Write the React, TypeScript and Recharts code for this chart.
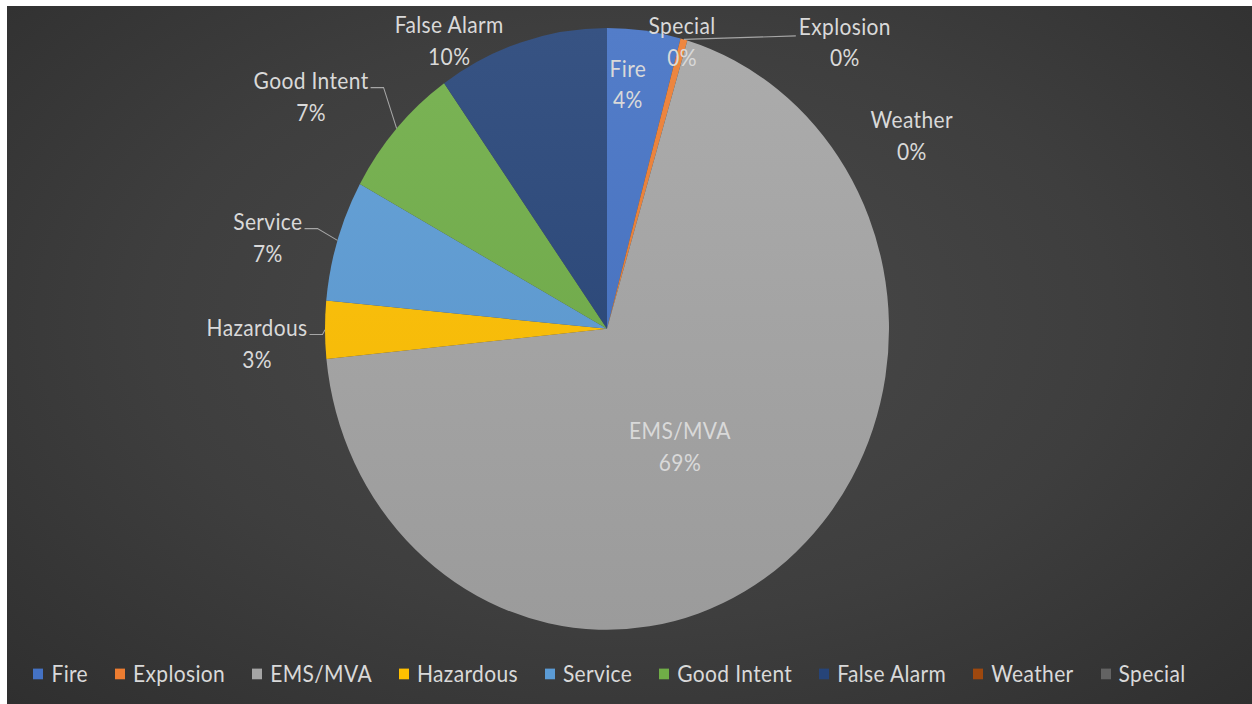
import { PieChart, Pie, Cell, Legend } from "recharts";

const categories = ["Fire", "Explosion", "EMS/MVA", "Hazardous", "Service", "Good Intent", "False Alarm", "Weather", "Special"];
const shares = [4.2, 0.4, 68.8, 3.1, 6.5, 7.2, 9.8, 0, 0];
const sliceColors = ["#4472c4", "#ed7d31", "#a5a5a5", "#ffc000", "#5b9bd5", "#70ad47", "#264478", "#9e480e", "#636363"];

const data = categories.map((name, i) => ({ name, value: shares[i] }));

// the source image is a bit taller than it is wide, so the chart gets stretched
const SCALE_Y = 1.067;
const W = 1245;
const H = 654;
const CX = 600;
const CY = 302.6;
const R = 282;
const FONT = 'Lato, "Open Sans", sans-serif';
const FS = 21;
const SPACING = 0.35;
const LINE_GAP = 29.5;
const TEXT = "#d9d9d9";

// where Excel put each label: clockwise degrees from 12 o'clock, radius as share of the pie radius
type Spot = { angle: number; radius: number; leader?: "left" | "right" };
const labelSpots: Record<string, Spot> = {
  Fire: { angle: 5.2, radius: 0.817 },
  Explosion: { angle: 41.5, radius: 1.273, leader: "right" },
  "EMS/MVA": { angle: 146.6, radius: 0.47 },
  Hazardous: { angle: 267.7, radius: 1.242, leader: "left" },
  Service: { angle: 284.1, radius: 1.24, leader: "left" },
  "Good Intent": { angle: 306.3, radius: 1.302, leader: "left" },
  "False Alarm": { angle: 329.7, radius: 1.109 },
  Weather: { angle: 59.3, radius: 1.257 },
  Special: { angle: 15.6, radius: 0.99 },
};

let ctx: CanvasRenderingContext2D | null = null;
function textWidth(s: string) {
  if (!ctx && typeof document !== "undefined") ctx = document.createElement("canvas").getContext("2d");
  if (!ctx) return s.length * FS * 0.5;
  ctx.font = `${FS}px ${FONT}`;
  return ctx.measureText(s).width + s.length * SPACING;
}

function shade(hex: string, amt: number) {
  const n = parseInt(hex.slice(1), 16);
  const mix = (c: number) => Math.round(amt >= 0 ? c + (255 - c) * amt : c * (1 + amt));
  const r = mix((n >> 16) & 255);
  const g = mix((n >> 8) & 255);
  const b = mix(n & 255);
  return `rgb(${r},${g},${b})`;
}

function polar(cx: number, cy: number, r: number, clockwise: number) {
  const a = (clockwise * Math.PI) / 180;
  return { x: cx + r * Math.sin(a), y: cy - r * Math.cos(a) };
}

function renderLabel(props: any) {
  const { cx, cy, outerRadius, midAngle, percent } = props;
  const name: string = props.payload?.name ?? props.name;
  const spot = labelSpots[name];
  if (!spot) return null;
  const p = polar(cx, cy, outerRadius * spot.radius, spot.angle);
  const y1 = p.y - LINE_GAP / 2;
  const y2 = p.y + LINE_GAP / 2;
  let leader = null;
  if (spot.leader) {
    const w = textWidth(name);
    const edge = polar(cx, cy, outerRadius, 90 - midAngle);
    const pts =
      spot.leader === "left"
        ? `${p.x + w / 2 + 2},${y1 + 6} ${p.x + w / 2 + 15},${y1 + 6} ${edge.x},${edge.y}`
        : `${edge.x},${edge.y} ${p.x - w / 2 - 3},${y1 + 9}`;
    leader = <polyline points={pts} fill="none" stroke="#a6a6a6" strokeWidth={1} />;
  }
  const textProps = {
    x: p.x,
    textAnchor: "middle" as const,
    dominantBaseline: "central" as const,
    fill: TEXT,
    fontSize: FS,
    fontFamily: FONT,
    letterSpacing: SPACING,
  };
  return (
    <g>
      {leader}
      <text y={y1} {...textProps}>
        {name}
      </text>
      <text y={y2} {...textProps}>
        {`${Math.round(percent * 100)}%`}
      </text>
    </g>
  );
}

function renderLegend(props: any) {
  const items = [...(props.payload ?? [])].sort(
    (a: any, b: any) => categories.indexOf(a.value) - categories.indexOf(b.value)
  );
  return (
    <div
      style={{
        display: "flex",
        justifyContent: "center",
        gap: 27,
        fontFamily: FONT,
        fontSize: FS,
        letterSpacing: SPACING,
        color: TEXT,
      }}
    >
      {items.map((item: any) => (
        <div key={item.value} style={{ display: "flex", alignItems: "center" }}>
          <span
            style={{
              width: 10,
              height: 10,
              background: sliceColors[categories.indexOf(item.value)] ?? item.color,
              marginRight: 8,
              display: "inline-block",
            }}
          />
          <span>{item.value}</span>
        </div>
      ))}
    </div>
  );
}

export default function App() {
  return (
    <div style={{ width: 1252, height: 704, background: "#ffffff", position: "relative" }}>
      <style>{"body{margin:0}"}</style>
      <div
        style={{
          position: "absolute",
          left: 7,
          top: 6,
          width: W,
          height: 698,
          overflow: "hidden",
          background: "radial-gradient(ellipse at 50% 45%, #4a4a4a 0%, #3e3e3e 55%, #2f2f2f 100%)",
        }}
      >
        <div style={{ width: W, height: H, transform: `scaleY(${SCALE_Y})`, transformOrigin: "0 0" }}>
          <PieChart width={W} height={H} margin={{ top: 0, right: 0, bottom: 0, left: 0 }}>
            <defs>
              {sliceColors.map((c, i) => (
                <linearGradient
                  key={c}
                  id={`slice-${i}`}
                  gradientUnits="userSpaceOnUse"
                  x1={0}
                  y1={CY - R}
                  x2={0}
                  y2={CY + R}
                >
                  <stop offset="0%" stopColor={shade(c, 0.08)} />
                  <stop offset="100%" stopColor={shade(c, -0.06)} />
                </linearGradient>
              ))}
            </defs>
            <Pie
              data={data}
              dataKey="value"
              nameKey="name"
              cx={CX}
              cy={CY}
              outerRadius={R}
              startAngle={90}
              endAngle={-270}
              stroke="none"
              label={renderLabel}
              labelLine={false}
              isAnimationActive={false}
            >
              {data.map((d, i) => (
                <Cell key={d.name} fill={`url(#slice-${i})`} />
              ))}
            </Pie>
            <Legend
              verticalAlign="bottom"
              wrapperStyle={{ bottom: 16, left: 0, width: W - 40 }}
              content={renderLegend}
            />
          </PieChart>
        </div>
      </div>
    </div>
  );
}
